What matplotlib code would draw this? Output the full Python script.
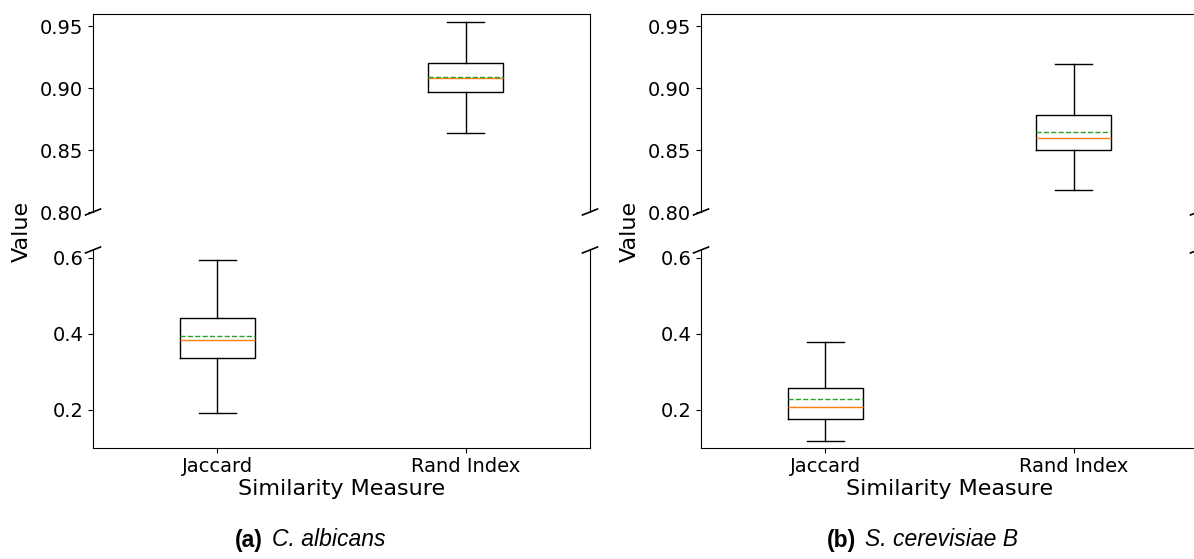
import matplotlib
matplotlib.use('Agg')
import matplotlib.pyplot as plt

# categories
measures = ['Jaccard', 'Rand Index']

# whislo, q1, median, mean, q3, whishi
jac_albicans = [0.192, 0.337, 0.382, 0.393, 0.440, 0.595]
rand_albicans = [0.864, 0.897, 0.9086, 0.909, 0.9205, 0.9535]
jac_cerevisiae = [0.117, 0.176, 0.207, 0.227, 0.256, 0.379]
rand_cerevisiae = [0.818, 0.850, 0.860, 0.865, 0.878, 0.920]

panel_tags = ['(a)', '(b)']
panel_names = ['C. albicans', 'S. cerevisiae B']

top_ticks = [0.80, 0.85, 0.90, 0.95]
bottom_ticks = [0.2, 0.4, 0.6]


def make_stats(rows):
    out = []
    for name, r in zip(measures, rows):
        out.append(dict(label=name, whislo=r[0], q1=r[1], med=r[2], mean=r[3],
                        q3=r[4], whishi=r[5], fliers=[]))
    return out


W, H = 1194, 559
fig = plt.figure(figsize=(W / 100, H / 100), dpi=100)

panels = [[jac_albicans, rand_albicans], [jac_cerevisiae, rand_cerevisiae]]
lefts = [93, 701]
caption_x = [263, 856]

for i, rows in enumerate(panels):
    x0 = lefts[i] / W
    w = 497 / W
    ax_top = fig.add_axes([x0, (H - 212) / H, w, 198 / H])
    ax_bot = fig.add_axes([x0, (H - 447.7) / H, w, 197.7 / H])
    stats = make_stats(rows)
    for ax in (ax_top, ax_bot):
        ax.bxp(stats, positions=[1, 2], widths=0.3, showmeans=True,
               meanline=True, showfliers=False)
        ax.set_xlim(0.5, 2.5)
        ax.tick_params(labelsize=14)

    ax_top.set_ylim(0.80, 0.96)
    ax_top.set_yticks(top_ticks)
    ax_top.set_yticklabels(['%.2f' % t for t in top_ticks])
    ax_bot.set_ylim(0.1, 0.62)
    ax_bot.set_yticks(bottom_ticks)
    ax_bot.set_yticklabels(['%.1f' % t for t in bottom_ticks])

    ax_top.spines['bottom'].set_visible(False)
    ax_bot.spines['top'].set_visible(False)
    ax_top.tick_params(bottom=False, labelbottom=False)
    ax_bot.set_xticks([1, 2])
    ax_bot.set_xticklabels(measures, fontsize=14)
    ax_bot.set_xlabel('Similarity Measure', fontsize=16, labelpad=2)

    # break marks
    d = 0.015
    kw = dict(transform=ax_top.transAxes, color='k', clip_on=False, lw=1.2)
    ax_top.plot((-d, d), (-d, d), **kw)
    ax_top.plot((1 - d, 1 + d), (-d, d), **kw)
    kw.update(transform=ax_bot.transAxes)
    ax_bot.plot((-d, d), (1 - d, 1 + d), **kw)
    ax_bot.plot((1 - d, 1 + d), (1 - d, 1 + d), **kw)

    fig.text((lefts[i] - 71) / W, (H - 231) / H, 'Value', rotation=90,
             fontsize=16, ha='center', va='center')

    fig.text(caption_x[i] / W, (H - 540) / H, panel_tags[i], fontsize=16.5,
             fontweight='bold', family='Liberation Sans', ha='right', va='center')
    fig.text((caption_x[i] + 9) / W, (H - 540) / H, panel_names[i], fontsize=16.5,
             style='italic', family='Liberation Sans', ha='left', va='center')

fig.savefig('out.png', dpi=100)
